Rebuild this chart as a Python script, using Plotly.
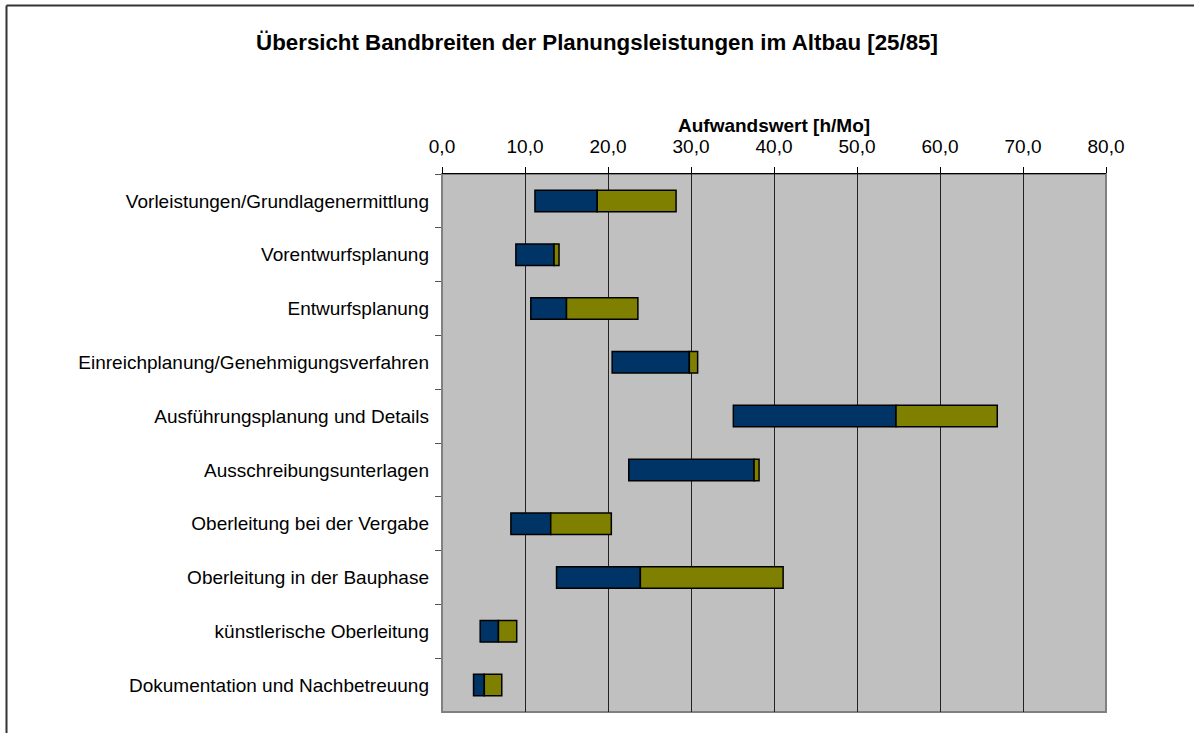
import plotly.graph_objects as go

categories = [
    "Vorleistungen/Grundlagenermittlung",
    "Vorentwurfsplanung",
    "Entwurfsplanung",
    "Einreichplanung/Genehmigungsverfahren",
    "Ausführungsplanung und Details",
    "Ausschreibungsunterlagen",
    "Oberleitung bei der Vergabe",
    "Oberleitung in der Bauphase",
    "künstlerische Oberleitung",
    "Dokumentation und Nachbetreuung",
]
wert_min = [11.2, 8.9, 10.7, 20.5, 35.1, 22.5, 8.3, 13.8, 4.6, 3.8]
wert_mitte = [18.7, 13.5, 15.0, 29.8, 54.7, 37.6, 13.1, 23.9, 6.8, 5.1]
wert_max = [28.2, 14.1, 23.6, 30.8, 66.9, 38.2, 20.4, 41.1, 9.0, 7.2]
x_ticks = [0, 10, 20, 30, 40, 50, 60, 70, 80]

W, H = 1194, 733
L, R, T, B = 442, 88, 174, 21
pw, ph = W - L - R, H - T - B


def px(x):
    return (x - L) / pw


def py(y):
    return 1 - (y - T) / ph


fig = go.Figure()
fig.add_trace(
    go.Bar(
        y=categories,
        x=[m - a for a, m in zip(wert_min, wert_mitte)],
        base=wert_min,
        orientation="h",
        marker=dict(color="#003366", line=dict(color="black", width=1.5)),
        hoverinfo="skip",
    )
)
fig.add_trace(
    go.Bar(
        y=categories,
        x=[b - m for m, b in zip(wert_mitte, wert_max)],
        base=wert_mitte,
        orientation="h",
        marker=dict(color="#808000", line=dict(color="black", width=1.5)),
        hoverinfo="skip",
    )
)

font = "Arial, Liberation Sans, sans-serif"
fig.update_layout(
    width=W,
    height=H,
    barmode="overlay",
    bargap=0.6,
    showlegend=False,
    margin=dict(l=L, r=R, t=T, b=B),
    paper_bgcolor="white",
    plot_bgcolor="#c0c0c0",
    separators=",.",
    font=dict(family=font, size=19, color="black"),
    title=dict(
        text="<b>Übersicht Bandbreiten der Planungsleistungen im Altbau [25/85]</b>",
        x=0.5,
        xanchor="center",
        y=1 - 42 / H,
        yanchor="middle",
        font=dict(family=font, size=22.3, color="black"),
    ),
    xaxis=dict(
        side="top",
        range=[0, 80],
        tickvals=x_ticks,
        tickformat=".1f",
        ticks="outside",
        ticklen=6,
        tickcolor="black",
        ticklabelstandoff=6,
        showline=True,
        linecolor="black",
        linewidth=1,
        showgrid=True,
        gridcolor="#222222",
        gridwidth=1,
        zeroline=False,
        tickfont=dict(size=19),
    ),
    yaxis=dict(
        autorange="reversed",
        tickson="boundaries",
        ticks="outside",
        ticklen=6,
        tickcolor="#555555",
        ticklabelstandoff=12,
        showline=False,
        showgrid=False,
        zeroline=False,
        tickfont=dict(size=19),
    ),
    shapes=[
        dict(type="rect", xref="paper", yref="paper", x0=0, x1=1, y0=0, y1=1,
             line=dict(color="#808080", width=2), layer="below"),
        dict(type="line", xref="paper", yref="paper", x0=px(6.5), x1=px(W + 10),
             y0=py(5.5), y1=py(5.5), line=dict(color="#333333", width=2)),
        dict(type="line", xref="paper", yref="paper", x0=px(6.5), x1=px(6.5),
             y0=py(5.5), y1=py(H + 10), line=dict(color="#333333", width=2)),
    ],
    annotations=[
        dict(text="<b>Aufwandswert [h/Mo]</b>", xref="paper", yref="paper",
             x=0.5, y=py(125), xanchor="center", yanchor="middle",
             showarrow=False, font=dict(family=font, size=19, color="black")),
    ],
)

# the page body has a default 8px margin; remove it so the figure sits at 0,0
fig.write_html(
    "out.html",
    config={"displayModeBar": False},
    post_script="document.body.style.margin='0';document.body.style.overflow='hidden';",
)
